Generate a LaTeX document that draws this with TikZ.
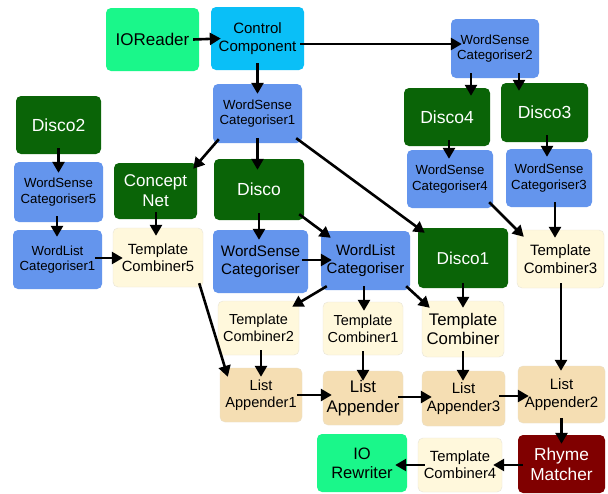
\documentclass[tikz,border=0pt]{standalone}
\usepackage{fontspec}
\setmainfont{Liberation Sans}
\usetikzlibrary{arrows.meta}
\definecolor{cgreen}{HTML}{1AF78A}
\definecolor{csky}{HTML}{0ABFF7}
\definecolor{cblue}{HTML}{6495ED}
\definecolor{cdark}{HTML}{0A6407}
\definecolor{ccream}{HTML}{FFF8DC}
\definecolor{cwheat}{HTML}{F5DEB3}
\definecolor{cmaroon}{HTML}{800000}
\newcommand{\fs}[1]{\fontsize{#1pt}{\the\dimexpr #1pt*117/100\relax}\selectfont}
\tikzset{
  box/.style={rounded corners=5pt, inner sep=0pt, align=center, text=black},
  lightgreen/.style={box, fill=cgreen},
  sky/.style={box, fill=csky},
  bluebox/.style={box, fill=cblue},
  darkbox/.style={box, fill=cdark, text=white},
  creambox/.style={box, fill=ccream, draw=ccream!85!black!60, line width=0.4pt},
  wheatbox/.style={box, fill=cwheat, draw=cwheat!90!black!60, line width=0.4pt},
  maroonbox/.style={box, fill=cmaroon, text=white},
  fz/.style={font=\fs{#1}},
  arr/.style={line width=2.6pt, -{Triangle[length=11pt,width=12pt]}},
}
\begin{document}
\begin{tikzpicture}[x=1pt,y=-1pt]
\useasboundingbox (0,0) rectangle (608,493);
\fill[white] (0,0) rectangle (608,493);
% nodes
\node[lightgreen, fz=17, minimum width=93pt, minimum height=63pt] (ioreader) at (152.5,39.5) {IOReader};
\node[sky, fz=15, minimum width=93pt, minimum height=63pt] (ctrl) at (257.5,38.5) {Control\\Component};
\node[bluebox, fz=13.2, minimum width=89pt, minimum height=59pt] (wsc1) at (257.5,113.5) {WordSense\\Categoriser1};
\node[darkbox, fz=17.5, minimum width=85pt, minimum height=58pt] (disco2) at (58.5,125) {Disco2};
\node[bluebox, fz=13.2, minimum width=89pt, minimum height=60pt] (wsc5) at (58.5,192) {WordSense\\Categoriser5};
\node[darkbox, fz=17, minimum width=83pt, minimum height=56pt] (cnet) at (155.5,191) {Concept\\Net};
\node[darkbox, fz=17.5, minimum width=90pt, minimum height=61pt] (disco) at (259,189.5) {Disco};
\node[bluebox, fz=13.2, minimum width=88pt, minimum height=59pt] (wsc2) at (495,48.5) {WordSense\\Categoriser2};
\node[darkbox, fz=17.5, minimum width=86pt, minimum height=58pt] (disco4) at (447,117) {Disco4};
\node[darkbox, fz=17.5, minimum width=87pt, minimum height=59pt] (disco3) at (544.5,112.5) {Disco3};
\node[bluebox, fz=13.2, minimum width=86pt, minimum height=58pt] (wsc4) at (450,179) {WordSense\\Categoriser4};
\node[bluebox, fz=13.2, minimum width=86pt, minimum height=58pt] (wsc3) at (549,178) {WordSense\\Categoriser3};
\node[bluebox, fz=13.2, minimum width=89pt, minimum height=59pt] (wlc1) at (57.5,259.5) {WordList\\Categoriser1};
\node[creambox, fz=14.8, minimum width=90pt, minimum height=59pt] (tc5) at (158,257.5) {Template\\Combiner5};
\node[bluebox, fz=15.2, minimum width=95pt, minimum height=63pt] (wsc) at (260.5,261.5) {WordSense\\Categoriser};
\node[bluebox, fz=15, minimum width=89pt, minimum height=59pt] (wlc) at (365.5,260.5) {WordList\\Categoriser};
\node[darkbox, fz=17.2, minimum width=90pt, minimum height=60pt] (disco1) at (463,258) {Disco1};
\node[creambox, fz=15, minimum width=87pt, minimum height=58pt] (tc3) at (560.5,259) {Template\\Combiner3};
\node[creambox, fz=14.5, minimum width=81pt, minimum height=54pt] (tc2) at (258.5,328) {Template\\Combiner2};
\node[creambox, fz=14.5, minimum width=80pt, minimum height=53pt] (tc1) at (363,328.5) {Template\\Combiner1};
\node[creambox, fz=16.8, minimum width=82pt, minimum height=56pt] (tc) at (463,329) {Template\\Combiner};
\node[wheatbox, fz=14.6, minimum width=82pt, minimum height=54pt] (la1) at (261,395) {List\\Appender1};
\node[wheatbox, fz=16.8, minimum width=80pt, minimum height=54pt] (la) at (363,398) {List\\Appender};
\node[wheatbox, fz=15, minimum width=83pt, minimum height=55pt] (la3) at (463.5,398.5) {List\\Appender3};
\node[wheatbox, fz=15, minimum width=87pt, minimum height=57pt] (la2) at (561.5,394.5) {List\\Appender2};
\node[lightgreen, fz=16.5, minimum width=90pt, minimum height=58pt] (iorw) at (362,463) {IO\\Rewriter};
\node[creambox, fz=14.8, minimum width=84pt, minimum height=54pt] (tc4) at (460,465) {Template\\Combiner4};
\node[maroonbox, fz=17.3, minimum width=87pt, minimum height=58pt] (rhyme) at (561.5,464) {Rhyme\\Matcher};
% connectors
\draw[arr] ([shift={(-6,0)}]ioreader.east) -- ([shift={(10,0)}]ctrl.west);
\draw[arr] ([shift={(-4,5.5)}]ctrl.east) -- ([shift={(11,-4.5)}]wsc2.west);
\draw[arr] ([shift={(0,-7)}]ctrl.south) -- ([shift={(0,10)}]wsc1.north);
\draw[arr] ([shift={(6,-4)}]wsc1.south west) -- ([shift={(-4,6)}]cnet.north east);
\draw[arr] ([shift={(0,-5)}]wsc1.south) -- ([shift={(-1.5,11)}]disco.north);
\draw[arr] ([shift={(-6,-5)}]wsc1.south east) -- ([shift={(7,5)}]disco1.north west);
\draw[arr] ([shift={(-24,-5)}]wsc2.south) -- ([shift={(24,8)}]disco4.north);
\draw[arr] ([shift={(24,-5)}]wsc2.south) -- ([shift={(-25.5,8)}]disco3.north);
\draw[arr] ([shift={(2,-6)}]disco4.south) -- ([shift={(-1,9)}]wsc4.north);
\draw[arr] ([shift={(2.5,-7)}]disco3.south) -- ([shift={(-2,8)}]wsc3.north);
\draw[arr] ([shift={(-4,-6)}]wsc4.south east) -- ([shift={(7,7)}]tc3.north west);
\draw[arr] ([shift={(6,-5)}]wsc3.south) -- ([shift={(-5.5,8)}]tc3.north);
\draw[arr] ([shift={(0,-6)}]disco2.south) -- ([shift={(0,11)}]wsc5.north);
\draw[arr] ([shift={(-1.5,-6)}]wsc5.south) -- ([shift={(-0.5,7)}]wlc1.north);
\draw[arr] ([shift={(-7,-1.5)}]wlc1.east) -- ([shift={(10,0.5)}]tc5.west);
\draw[arr] ([shift={(0.5,-7)}]cnet.south) -- ([shift={(-2,8)}]tc5.north);
\draw[arr] ([shift={(0,-7)}]disco.south) -- ([shift={(-1.5,10)}]wsc.north);
\draw[arr] ([shift={(-5,-6)}]disco.south east) -- ([shift={(10,7)}]wlc.north west);
\draw[arr] ([shift={(-6,-1.5)}]wsc.east) -- ([shift={(11,-0.5)}]wlc.west);
\draw[arr] ([shift={(6,-4)}]wlc.south west) -- ([shift={(-7,6)}]tc2.north east);
\draw[arr] ([shift={(-1.5,-4)}]wlc.south) -- ([shift={(1,9)}]tc1.north);
\draw[arr] ([shift={(-4,-4)}]wlc.south east) -- ([shift={(8,7)}]tc.north west);
\draw[arr] ([shift={(0,-5)}]disco1.south) -- ([shift={(0,7)}]tc.north);
\draw[arr] ([shift={(-4,-4)}]tc5.south east) -- ([shift={(8,9)}]la1.north west);
\draw[arr] ([shift={(2.5,-5)}]tc2.south) -- ([shift={(0,9)}]la1.north);
\draw[arr] ([shift={(0,-4)}]tc1.south) -- ([shift={(0,10)}]la.north);
\draw[arr] ([shift={(0,-6)}]tc.south) -- ([shift={(-0.5,10)}]la3.north);
\draw[arr] ([shift={(0.5,-5)}]tc3.south) -- ([shift={(-0.5,5)}]la2.north);
\draw[arr] ([shift={(-5,0)}]la1.east) -- ([shift={(9,-3)}]la.west);
\draw[arr] ([shift={(-5,-1)}]la.east) -- ([shift={(10,-1.5)}]la3.west);
\draw[arr] ([shift={(-6,-2.5)}]la3.east) -- ([shift={(11,1.5)}]la2.west);
\draw[arr] ([shift={(0,-5)}]la2.south) -- ([shift={(0,9)}]rhyme.north);
\draw[arr] ([shift={(5,1)}]rhyme.west) -- ([shift={(-9,0)}]tc4.east);
\draw[arr] ([shift={(7,0)}]tc4.west) -- ([shift={(-12,2)}]iorw.east);
\end{tikzpicture}
\end{document}
